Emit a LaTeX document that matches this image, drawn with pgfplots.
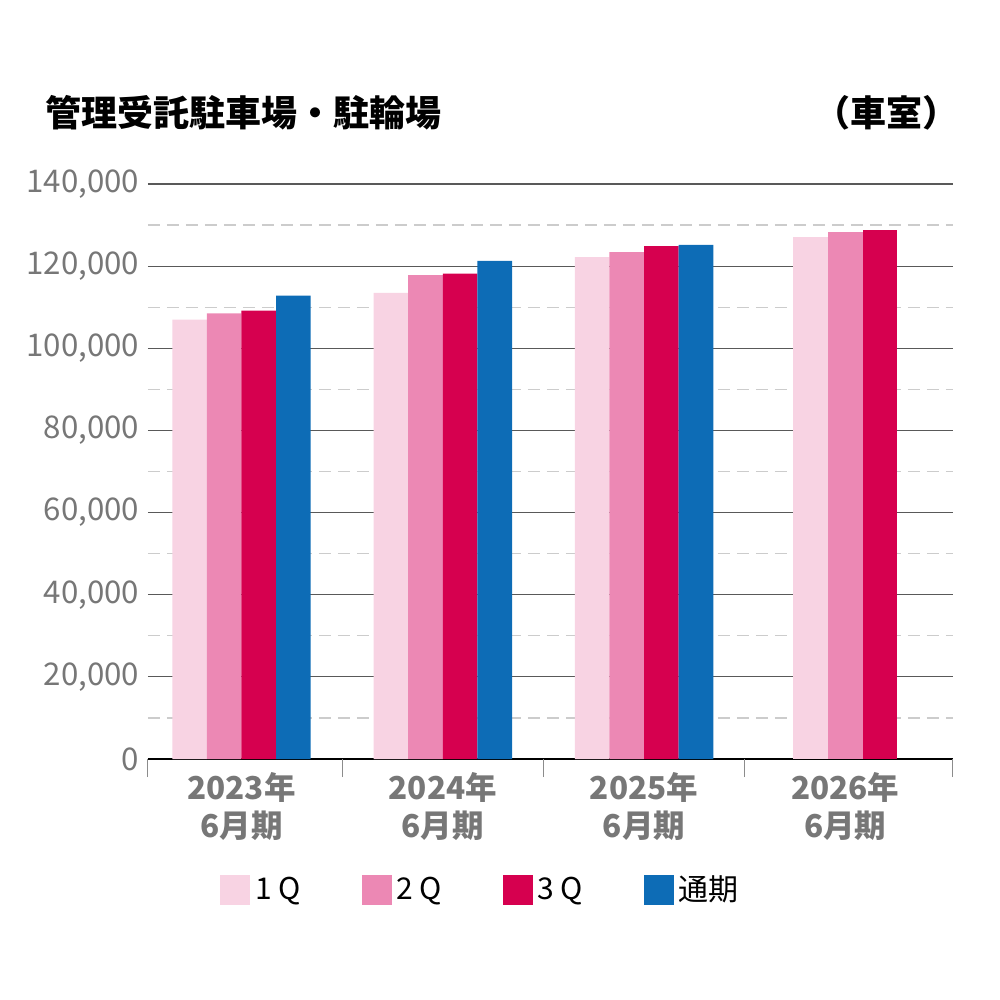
\documentclass[border=0pt]{standalone}
\usepackage{fontspec}
\setmainfont{Noto Sans CJK JP}
\usepackage{pgfplots}
\pgfplotsset{compat=1.18}
\definecolor{qa}{HTML}{F8D3E3}
\definecolor{qb}{HTML}{EC88B4}
\definecolor{qc}{HTML}{D6004F}
\definecolor{qd}{HTML}{0D6CB6}
\definecolor{tickgray}{HTML}{777777}
\pgfplotsset{
  sq/.style={draw=none, fill=#1,
    legend image code/.code={\fill[fill=#1,draw=none] (0pt,-6pt) rectangle (12pt,6pt);}},
}
\begin{document}
\begin{tikzpicture}
\path[use as bounding box] (0,0) rectangle (400pt,400pt);
\begin{axis}[
  at={(59.2pt,96.4pt)}, anchor=south west,
  scale only axis, width=322pt, height=230pt,
  xmin=0.5355, xmax=4.535, ymin=0, ymax=140000,
  ybar, bar width=0.172,
  axis x line*=bottom, axis y line*=left,
  y axis line style={draw=none},
  x axis line style={black, line width=0.6pt},
  major tick length=0pt, minor tick length=0pt,
  xtick={1,2,3,4},
  xticklabels={{2023年\\6月期},{2024年\\6月期},{2025年\\6月期},{2026年\\6月期}},
  xticklabel style={align=center, text=tickgray, font=\bfseries\fontsize{12.6}{15.2}\selectfont, yshift=-2pt},
  extra x ticks={0.5355,1.5,2.5,3.5,4.535},
  extra x tick labels={\empty,\empty,\empty,\empty,\empty},
  extra x tick style={major tick length=7.2pt, tick align=outside, tick style={draw=black!45, line width=0.4pt}},
  ytick={0,20000,...,140000},
  minor ytick={10000,30000,...,130000},
  scaled y ticks=false,
  yticklabel style={text=tickgray, font=\fontsize{12.5}{12.5}\selectfont,
    /pgf/number format/fixed,
    /pgf/number format/precision=0,
    /pgf/number format/1000 sep={,}},
  /pgf/number format/assume math mode=true,
  ymajorgrids, yminorgrids,
  major grid style={black!65, line width=0.5pt},
  minor grid style={black!20, line width=0.5pt, dash pattern=on 4.8pt off 2.8pt},
  legend columns=4,
  legend style={at={(rel axis cs:0.0894,-0.2278)}, anchor=west, draw=none, fill=none,
    inner sep=0pt, font=\fontsize{12}{12}\selectfont,
    /tikz/every even column/.append style={column sep=22.5pt}},
]
\addplot[sq=qa, bar shift=-0.258] coordinates {(1,107000) (2,113500) (3,122200)};
\addplot[sq=qb, bar shift=-0.086] coordinates {(1,108500) (2,117800) (3,123400)};
\addplot[sq=qc, bar shift=0.086] coordinates {(1,109200) (2,118200) (3,124900)};
\addplot[sq=qd, bar shift=0.258] coordinates {(1,112800) (2,121300) (3,125200)};
\addplot[sq=qa, bar shift=-0.172, forget plot] coordinates {(4,127100)};
\addplot[sq=qb, bar shift=0, forget plot] coordinates {(4,128300)};
\addplot[sq=qc, bar shift=0.172, forget plot] coordinates {(4,128700)};
\legend{1\hspace{0.2em}Q, 2\hspace{0.2em}Q, 3\hspace{0.2em}Q, 通期}
\end{axis}
\node[anchor=west, inner sep=0pt, font=\bfseries\fontsize{14.4}{14.4}\selectfont] at (18pt,354.8pt) {管理受託駐車場・駐輪場};
\node[anchor=east, inner sep=0pt, font=\bfseries\fontsize{14.4}{14.4}\selectfont] at (383.6pt,354.8pt) {（車室）};
\end{tikzpicture}
\end{document}
